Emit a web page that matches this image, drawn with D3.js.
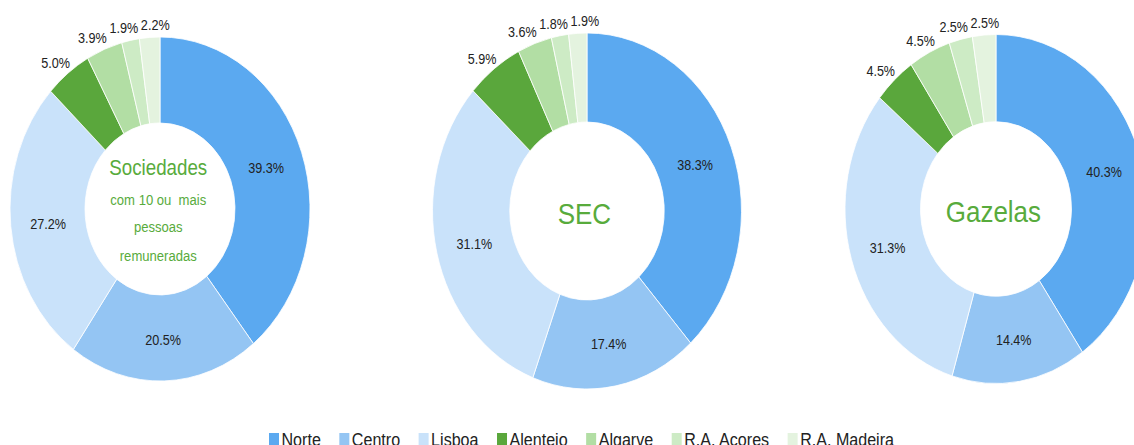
<!DOCTYPE html>
<html><head><meta charset="utf-8">
<script src="https://cdn.jsdelivr.net/npm/d3@7"></script>
<style>
html,body{margin:0;padding:0;background:#fff;overflow:hidden}
svg{display:block;font-family:"Liberation Sans",Arial,sans-serif}
</style></head><body>
<svg id="chart" width="1134" height="445"></svg>
<script>
// Regional distribution (%) of enterprises by NUTS II region
const regions = ["Norte", "Centro", "Lisboa", "Alentejo", "Algarve", "R.A. Açores", "R.A. Madeira"];
const sociedades = [39.3, 20.5, 27.2, 5.0, 3.9, 1.9, 2.2];
const sec = [38.3, 17.4, 31.1, 5.9, 3.6, 1.8, 1.9];
const gazelas = [40.3, 14.4, 31.3, 4.5, 4.5, 2.5, 2.5];
const regionColors = ["#5BA9F0", "#94C5F3", "#C9E2FA", "#5AA73C", "#B2DEA4", "#CDEBC5", "#E4F3DF"];
const centerTitles = [
  ["Sociedades", "com 10 ou  mais", "pessoas", "remuneradas"],
  ["SEC"],
  ["Gazelas"]
];

// Layout of each ring (ellipse: rx horizontal, ry vertical)
const donuts = [
  {values: sociedades, title: centerTitles[0], cx: 160, cy: 209, rx: 150, ry: 172},
  {values: sec, title: centerTitles[1], cx: 587, cy: 211, rx: 154.5, ry: 178},
  {values: gazelas, title: centerTitles[2], cx: 996, cy: 209, rx: 151, ry: 174.5}
];

const svg = d3.select("#chart");
const color = d3.scaleOrdinal().domain(regions).range(regionColors);
const pie = d3.pie().sort(null).value(d => d.v);
const green = "#58AB3C";
const labelColor = "#222";
const labelGap = 6;      // distance between ring and outside labels (px)
const labelHalfH = 6;    // half height of a value label box (px)

donuts.forEach(cfg => {
  const sx = cfg.rx / cfg.ry;
  const g = svg.append("g")
    .attr("transform", `translate(${cfg.cx},${cfg.cy}) scale(${sx},1)`);
  const arc = d3.arc().innerRadius(cfg.ry * 0.5).outerRadius(cfg.ry);
  const arcs = pie(cfg.values.map((v, i) => ({v, region: regions[i]})));

  g.selectAll("path.slice").data(arcs).join("path")
    .attr("class", "slice")
    .attr("d", arc)
    .attr("fill", d => color(d.data.region))
    .attr("stroke", "#fff")
    .attr("stroke-width", 0.8)
    .attr("vector-effect", "non-scaling-stroke");

  // value labels: inside the ring for large slices, outside for small ones
  const labels = arcs.map(d => ({
    d, mid: (d.startAngle + d.endAngle) / 2,
    outside: d.data.v < 10,
    text: d.data.v.toFixed(1) + "%"
  }));

  const texts = g.selectAll("text.val").data(labels).join("text")
    .attr("class", "val")
    .attr("text-anchor", "middle")
    .attr("dominant-baseline", "central")
    .attr("font-size", 14.5)
    .attr("fill", labelColor)
    .text(l => l.text);
  texts.each(function(l) { l.w = this.getComputedTextLength(); });

  labels.forEach(l => {
    const s = Math.sin(l.mid), c = Math.cos(l.mid);
    if (l.outside) {
      // label box pushed out from the ring edge along the slice's mid angle
      l.x = s * (cfg.ry + labelGap / sx + l.w / 2);
      l.y = -c * (cfg.ry + labelGap + labelHalfH);
    } else {
      [l.x, l.y] = arc.centroid(l.d);
      l.y += 2;
    }
  });

  // spread neighbouring outside labels that would overlap
  const outs = labels.filter(l => l.outside);
  for (let iter = 0; iter < 20; iter++) {
    for (let i = 1; i < outs.length; i++) {
      const a = outs[i - 1], b = outs[i];
      if (Math.abs(a.y - b.y) > 14) continue;
      const need = (a.w + b.w) / 2 + 3 - (b.x - a.x);
      if (need > 0) { a.x -= need / 2; b.x += need / 2; }
    }
  }
  texts.attr("x", l => l.x).attr("y", l => l.y);

  // centre title
  if (cfg.title.length > 1) {
    const sizes = [21.5, 15, 15, 15];
    const base = [-34, -4, 23, 52];
    cfg.title.forEach((t, i) => {
      g.append("text")
        .attr("x", -2).attr("y", base[i])
        .attr("text-anchor", "middle")
        .attr("font-size", sizes[i])
        .attr("fill", green)
        .style("white-space", "pre")
        .text(t);
    });
  } else {
    g.append("text")
      .attr("x", -3).attr("y", 13)
      .attr("text-anchor", "middle")
      .attr("font-size", 30)
      .attr("fill", green)
      .text(cfg.title[0]);
  }
});

// legend along the bottom edge
const legend = svg.append("g");
let lx = 269;
regions.forEach(r => {
  legend.append("rect")
    .attr("x", lx).attr("y", 433)
    .attr("width", 10).attr("height", 12)
    .attr("fill", color(r));
  const t = legend.append("text")
    .attr("transform", `translate(${lx + 12.5},446) scale(0.87,1)`)
    .attr("font-size", 18.5)
    .attr("fill", labelColor)
    .text(r);
  const w = t.node().getComputedTextLength() * 0.87;
  lx += 12.5 + w + 18.5;
});
</script>
</body></html>
